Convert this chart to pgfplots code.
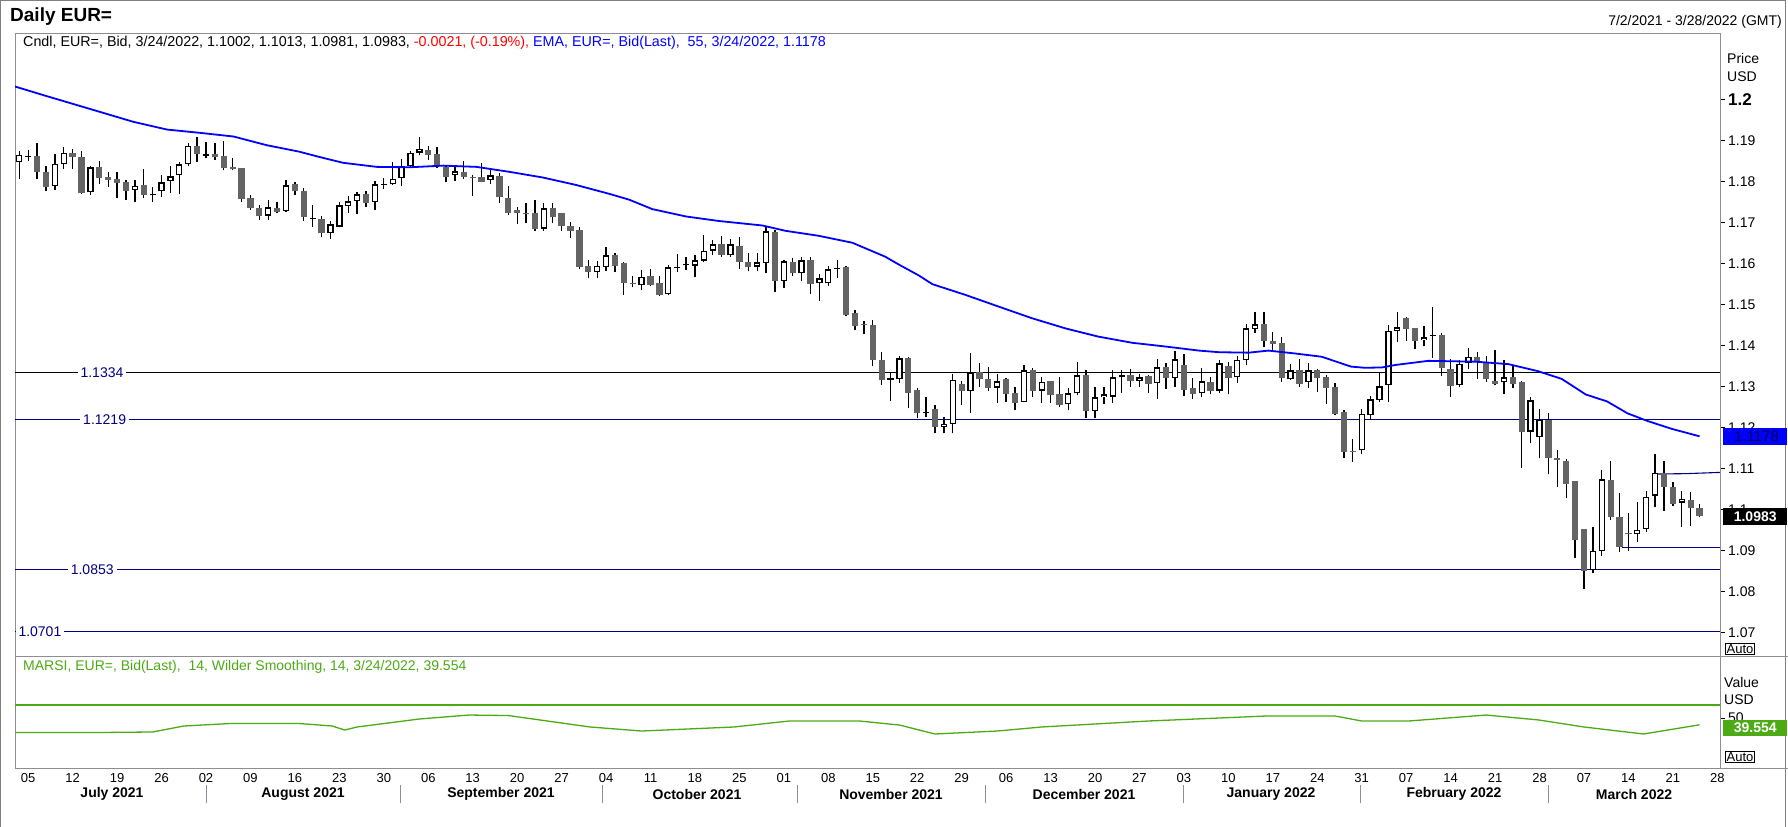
\documentclass[border=0pt]{standalone}
\usepackage{pgfplots}
\pgfplotsset{compat=1.18}
\usepackage{pgfplotstable}
\usepackage{fontspec}
\setmainfont{Liberation Sans}
\newcommand\fs[1]{\fontsize{#1bp}{#1bp}\selectfont}
\definecolor{framegray}{RGB}{140,140,155}
\definecolor{candledark}{RGB}{100,100,100}
\definecolor{navyline}{RGB}{0,0,128}
\definecolor{rsigreen}{RGB}{76,170,20}
\definecolor{emablue}{RGB}{0,0,255}

\pgfplotstableread{
i o h l c
0 1.1846 1.1874 1.1805 1.1864
1 1.1859 1.1876 1.1850 1.1861
4 1.1788 1.1866 1.1779 1.1842
5 1.1842 1.1883 1.1831 1.1870
8 1.1773 1.1837 1.1766 1.1834
13 1.1778 1.1803 1.1749 1.1789
15 1.1766 1.1785 1.1750 1.1770
16 1.1775 1.1814 1.1761 1.1797
17 1.1800 1.1838 1.1771 1.1812
18 1.1815 1.1848 1.1770 1.1841
19 1.1841 1.1892 1.1836 1.1886
21 1.1862 1.1896 1.1856 1.1867
28 1.1716 1.1754 1.1705 1.1736
30 1.1727 1.1803 1.1726 1.1790
33 1.1708 1.1742 1.1689 1.1710
35 1.1673 1.1703 1.1660 1.1695
36 1.1689 1.1749 1.1688 1.1741
37 1.1740 1.1764 1.1723 1.1751
38 1.1752 1.1774 1.1720 1.1768
40 1.1749 1.1801 1.1730 1.1792
41 1.1790 1.1807 1.1780 1.1792
42 1.1792 1.1846 1.1791 1.1805
43 1.1807 1.1853 1.1788 1.1836
44 1.1836 1.1874 1.1834 1.1870
45 1.1870 1.1907 1.1863 1.1879
49 1.1814 1.1839 1.1801 1.1824
53 1.1803 1.1827 1.1793 1.1814
59 1.1684 1.1748 1.1679 1.1734
65 1.1579 1.1606 1.1563 1.1593
66 1.1590 1.1640 1.1582 1.1619
70 1.1546 1.1584 1.1535 1.1566
73 1.1524 1.1596 1.1523 1.1590
74 1.1589 1.1622 1.1579 1.1591
75 1.1596 1.1616 1.1584 1.1598
76 1.1594 1.1620 1.1566 1.1607
77 1.1606 1.1669 1.1603 1.1631
78 1.1631 1.1657 1.1620 1.1646
80 1.1619 1.1659 1.1616 1.1646
83 1.1592 1.1624 1.1580 1.1602
84 1.1601 1.1688 1.1576 1.1678
86 1.1556 1.1608 1.1540 1.1605
88 1.1575 1.1615 1.1557 1.1607
90 1.1551 1.1574 1.1509 1.1563
91 1.1551 1.1593 1.1545 1.1585
92 1.1585 1.1607 1.1565 1.1589
98 1.1316 1.1332 1.1264 1.1318
99 1.1317 1.1374 1.1309 1.1368
102 1.1235 1.1275 1.1226 1.1237
104 1.1201 1.1226 1.1186 1.1209
105 1.1208 1.1330 1.1186 1.1315
107 1.1288 1.1380 1.1235 1.1333
110 1.1297 1.1330 1.1260 1.1312
113 1.1262 1.1351 1.1261 1.1339
115 1.1289 1.1322 1.1260 1.1310
118 1.1256 1.1296 1.1242 1.1283
119 1.1283 1.1358 1.1278 1.1327
121 1.1240 1.1299 1.1222 1.1273
122 1.1273 1.1299 1.1257 1.1280
123 1.1275 1.1340 1.1260 1.1322
124 1.1322 1.1340 1.1284 1.1327
126 1.1314 1.1330 1.1299 1.1322
128 1.1307 1.1366 1.1270 1.1346
130 1.1320 1.1385 1.1298 1.1366
133 1.1283 1.1344 1.1273 1.1312
135 1.1289 1.1364 1.1284 1.1356
137 1.1322 1.1374 1.1309 1.1364
138 1.1363 1.1452 1.1351 1.1441
139 1.1439 1.1482 1.1431 1.1451
143 1.1317 1.1354 1.1315 1.1339
145 1.1310 1.1356 1.1297 1.1339
151 1.1144 1.1245 1.1134 1.1232
152 1.1229 1.1276 1.1218 1.1268
153 1.1266 1.1332 1.1262 1.1300
154 1.1302 1.1449 1.1262 1.1436
155 1.1435 1.1482 1.1407 1.1444
158 1.1412 1.1447 1.1398 1.1419
159 1.1423 1.1493 1.1370 1.1425
162 1.1303 1.1363 1.1299 1.1354
163 1.1357 1.1393 1.1341 1.1371
167 1.1310 1.1364 1.1282 1.1322
170 1.1189 1.1274 1.1161 1.1266
171 1.1176 1.1245 1.1125 1.1218
177 1.0852 1.0957 1.0844 1.0898
178 1.0898 1.1096 1.0886 1.1073
182 1.0939 1.1018 1.0921 1.0950
183 1.0952 1.1045 1.0945 1.1030
184 1.1033 1.1135 1.1005 1.1089
187 1.1016 1.1045 1.0957 1.1025
}\upc

\pgfplotstableread{
i o h l c
2 1.1862 1.1892 1.1805 1.1822
3 1.1822 1.1836 1.1777 1.1787
6 1.1868 1.1878 1.1830 1.1858
7 1.1858 1.1873 1.1769 1.1772
9 1.1834 1.1849 1.1793 1.1809
10 1.1810 1.1822 1.1787 1.1804
11 1.1805 1.1822 1.1760 1.1796
12 1.1799 1.1802 1.1753 1.1777
14 1.1791 1.1829 1.1758 1.1767
20 1.1886 1.1908 1.1848 1.1867
22 1.1867 1.1892 1.1852 1.1858
23 1.1862 1.1898 1.1827 1.1833
24 1.1834 1.1856 1.1827 1.1831
25 1.1832 1.1833 1.1750 1.1756
26 1.1759 1.1766 1.1730 1.1735
27 1.1735 1.1742 1.1705 1.1715
29 1.1735 1.1749 1.1722 1.1726
31 1.1792 1.1799 1.1766 1.1775
32 1.1775 1.1783 1.1704 1.1712
34 1.1708 1.1715 1.1663 1.1673
39 1.1768 1.1776 1.1738 1.1748
46 1.1875 1.1886 1.1852 1.1865
47 1.1866 1.1883 1.1833 1.1839
48 1.1834 1.1840 1.1797 1.1811
50 1.1823 1.1849 1.1805 1.1811
51 1.1810 1.1814 1.1764 1.1807
52 1.1810 1.1844 1.1797 1.1799
54 1.1813 1.1821 1.1748 1.1762
55 1.1758 1.1788 1.1718 1.1723
56 1.1730 1.1738 1.1696 1.1723
57 1.1723 1.1748 1.1697 1.1720
58 1.1722 1.1754 1.1679 1.1684
60 1.1734 1.1746 1.1697 1.1712
61 1.1722 1.1723 1.1679 1.1692
62 1.1692 1.1701 1.1662 1.1679
63 1.1680 1.1688 1.1585 1.1592
64 1.1593 1.1608 1.1563 1.1579
67 1.1619 1.1624 1.1578 1.1594
68 1.1601 1.1604 1.1523 1.1553
69 1.1552 1.1569 1.1541 1.1549
71 1.1569 1.1586 1.1545 1.1547
72 1.1552 1.1569 1.1520 1.1523
79 1.1647 1.1666 1.1616 1.1619
81 1.1641 1.1663 1.1586 1.1604
82 1.1603 1.1624 1.1580 1.1592
85 1.1676 1.1682 1.1531 1.1557
87 1.1603 1.1612 1.1570 1.1575
89 1.1607 1.1616 1.1524 1.1550
93 1.1591 1.1593 1.1471 1.1475
94 1.1479 1.1486 1.1437 1.1448
95 1.1451 1.1459 1.1427 1.1449
96 1.1449 1.1462 1.1349 1.1364
97 1.1364 1.1383 1.1303 1.1315
100 1.1369 1.1371 1.1246 1.1284
101 1.1291 1.1296 1.1222 1.1236
103 1.1244 1.1254 1.1186 1.1200
106 1.1305 1.1314 1.1254 1.1289
108 1.1335 1.1356 1.1299 1.1317
109 1.1318 1.1346 1.1289 1.1297
111 1.1318 1.1319 1.1262 1.1281
112 1.1283 1.1298 1.1242 1.1260
114 1.1340 1.1345 1.1275 1.1289
116 1.1313 1.1314 1.1260 1.1279
117 1.1281 1.1322 1.1250 1.1255
120 1.1327 1.1340 1.1222 1.1240
125 1.1327 1.1342 1.1299 1.1314
127 1.1325 1.1327 1.1284 1.1306
129 1.1346 1.1356 1.1294 1.1321
131 1.1351 1.1378 1.1276 1.1292
132 1.1296 1.1319 1.1268 1.1282
134 1.1310 1.1322 1.1280 1.1289
136 1.1349 1.1359 1.1280 1.1321
140 1.1452 1.1482 1.1395 1.1411
141 1.1410 1.1433 1.1388 1.1404
142 1.1405 1.1419 1.1311 1.1321
144 1.1340 1.1366 1.1299 1.1306
146 1.1340 1.1343 1.1287 1.1321
147 1.1323 1.1327 1.1258 1.1297
148 1.1298 1.1307 1.1230 1.1233
149 1.1237 1.1242 1.1126 1.1140
150 1.1142 1.1171 1.1116 1.1140
156 1.1467 1.1468 1.1411 1.1440
157 1.1441 1.1442 1.1392 1.1411
160 1.1425 1.1431 1.1326 1.1345
161 1.1342 1.1366 1.1275 1.1301
164 1.1371 1.1384 1.1318 1.1361
165 1.1359 1.1374 1.1311 1.1318
166 1.1312 1.1388 1.1302 1.1306
168 1.1323 1.1353 1.1297 1.1306
169 1.1311 1.1312 1.1101 1.1188
172 1.1218 1.1234 1.1085 1.1125
173 1.1124 1.1144 1.1054 1.1121
174 1.1117 1.1122 1.1028 1.1062
175 1.1068 1.1069 1.0882 1.0925
176 1.0951 1.0952 1.0806 1.0850
179 1.1072 1.1119 1.0973 1.0981
180 1.0982 1.1041 1.0897 1.0908
181 1.0941 1.0992 1.0898 1.0939
185 1.1089 1.1119 1.0997 1.1054
186 1.1055 1.1066 1.1007 1.1012
188 1.1023 1.1043 1.0960 1.1003
189 1.1002 1.1013 1.0981 1.0983
}\downc

\pgfplotstableread{
i v
-0.5 1.2031
3 1.2008
8.3 1.1974
12.8 1.1945
16.6 1.1926
20.3 1.1918
24.1 1.1909
27.8 1.1888
31.5 1.1872
33.6 1.1860
36.4 1.1845
40.2 1.1835
43.9 1.1834
47.7 1.1838
51.4 1.1835
55.1 1.1823
58.9 1.1809
62.6 1.1791
66.4 1.1769
68.6 1.1755
71.2 1.1732
75 1.1714
78.7 1.1703
83.6 1.1692
86.2 1.1679
89.9 1.1667
93.7 1.1650
97.4 1.1616
99 1.1596
101.2 1.1570
102.7 1.1549
106.4 1.1523
110.2 1.1494
113.9 1.1466
117.7 1.1441
121.4 1.1421
125.2 1.1406
128.9 1.1397
132.7 1.1387
135 1.1383
138.3 1.1382
140.5 1.1387
143.5 1.1380
146.5 1.1372
148.7 1.1356
149.8 1.1348
151.4 1.1345
153.3 1.1346
154.8 1.1352
158.5 1.1362
163.8 1.1360
167.5 1.1354
170.8 1.1337
173.5 1.1318
176.2 1.1280
178.6 1.1263
180.9 1.1234
183.2 1.1215
185.9 1.1196
189 1.1178
}\ema

\pgfplotstableread{
i v
-0.5 27.7
9 27.7
15 28.5
18.5 37.7
23.7 41.5
31.5 41.5
35.2 37.7
36.6 31.5
38 36.2
45 48.5
50.6 54.6
55 53.8
64.2 36.2
70 30.0
80.4 36.2
86.6 45.4
94.5 45.4
99 39.2
103 25.4
110 30.0
115 36.2
127 45.4
140.3 53.1
148 53.1
151 45.4
156.3 45.4
165 54.6
170.9 47.0
176 36.2
182.7 25.4
189 39.554
}\rsi

\pgfplotsset{
  panel/.style={scale only axis, width=1705bp, xmin=-0.484, xmax=191.3,
    axis line style={framegray, line width=1bp},
    tick align=outside, major tick length=5bp,
    ytick pos=right, yticklabel pos=right,
    ytick style={black, line width=0.8bp},
    yticklabel style={font=\fs{14}, anchor=west, inner sep=1bp, xshift=2bp}},
  wick/.style={only marks, mark=none, mark size=0pt, mark options={draw=none, fill=none}, forget plot,
    error bars/.cd, y dir=plus, y explicit, error mark=none,
    error bar style={line width=1.3bp, color=black}},
  body/.style 2 args={only marks, mark=none, mark size=0pt, mark options={draw=none, fill=none}, forget plot,
    error bars/.cd, y dir=plus, y explicit, error mark=none,
    error bar style={line width=#1, color=#2}},
}

\begin{document}
\begin{tikzpicture}[x=1bp,y=-1bp]
\fill[white] (0,0) rectangle (1788,827);
\path[use as bounding box] (0,0) rectangle (1788,827);
\draw[gray, line width=1.5bp] (0.75,827) -- (0.75,0.75) -- (1785.5,0.75) -- (1785.5,827);

\node[anchor=west, inner sep=0] at (10,17) {\fs{19}\bfseries Daily EUR=};
\node[anchor=east, inner sep=0] at (1782,22) {\fs{14}7/2/2021 - 3/28/2022 (GMT)};
\node[anchor=west, inner sep=0] at (23,43) {\fs{14.3}Cndl, EUR=, Bid, 3/24/2022, 1.1002, 1.1013, 1.0981, 1.0983, \textcolor{red}{-0.0021, (-0.19\%),} \textcolor{emablue}{EMA, EUR=, Bid(Last),\ \ 55, 3/24/2022, 1.1178}};

\begin{axis}[panel, at={(15bp,-656bp)}, anchor=south west, height=623bp,
  ymin=1.06423, ymax=1.21614, xtick=\empty,
  ytick={1.07,1.08,1.09,1.10,1.11,1.12,1.13,1.14,1.15,1.16,1.17,1.18,1.19,1.2},
  yticklabels={1.07,1.08,1.09,1.1,1.11,1.12,1.13,1.14,1.15,1.16,1.17,1.18,1.19,{\fs{17}\bfseries 1.2}}]
  % reference levels
  \addplot[black, line width=1.1bp, forget plot] coordinates {(-0.484,1.1334) (191.3,1.1334)};
  \addplot[navyline, line width=1.1bp, forget plot] coordinates {(-0.484,1.1219) (191.3,1.1219)};
  \addplot[navyline, line width=1.1bp, forget plot] coordinates {(-0.484,1.0853) (191.3,1.0853)};
  \addplot[navyline, line width=1.1bp, forget plot] coordinates {(-0.484,1.0701) (191.3,1.0701)};
  \addplot[navyline, line width=1.1bp, forget plot] coordinates {(184,1.1086) (187.5,1.1087) (191.3,1.1090)};
  \addplot[navyline, line width=1.1bp, forget plot] coordinates {(180.3,1.0907) (191.3,1.0907)};
  % wicks
  \addplot[wick] table[x=i, y=l, y error plus expr=\thisrow{h}-\thisrow{l}] {\upc};
  \addplot[wick] table[x=i, y=l, y error plus expr=\thisrow{h}-\thisrow{l}] {\downc};
  % bodies
  \addplot[body={6.3bp}{candledark}] table[x=i, y=c, y error plus expr={max(\thisrow{o}-\thisrow{c},0.0003)}] {\downc};
  \addplot[body={6.3bp}{black}] table[x=i, y=o, y error plus expr={max(\thisrow{c}-\thisrow{o},0.0003)}] {\upc};
  \addplot[body={3.7bp}{white}] table[x=i, y expr=\thisrow{o}+0.00032, y error plus expr={max(\thisrow{c}-\thisrow{o}-0.00064,0)}] {\upc};
  % EMA 55
  \addplot[emablue, line width=1.8bp] table[x=i, y=v] {\ema};
  % level labels
  \node[fill=white, text=navyline, inner sep=3bp, font=\fs{14}] at (axis cs:9.3,1.1334) {1.1334};
  \node[fill=white, text=navyline, inner sep=3bp, font=\fs{14}] at (axis cs:9.6,1.1219) {1.1219};
  \node[fill=white, text=navyline, inner sep=3bp, font=\fs{14}] at (axis cs:8.2,1.0853) {1.0853};
  \node[fill=white, text=navyline, inner sep=3bp, font=\fs{14}, anchor=west] at (axis cs:-0.45,1.0701) {1.0701};
\end{axis}

\begin{axis}[panel, at={(15bp,-768bp)}, anchor=south west, height=112bp,
  ymin=-26.92, ymax=145.38, ytick={50}, yticklabels={50},
  xtick={1,6,...,191},
  xticklabels={05,12,19,26,02,09,16,23,30,06,13,20,27,04,11,18,25,01,08,15,22,29,06,13,20,27,03,10,17,24,31,07,14,21,28,07,14,21,28},
  xtick pos=bottom, xtick style={draw=none},
  xticklabel style={font=\fs{13}, inner sep=1bp, yshift=1bp}]
  \addplot[rsigreen, line width=1.3bp, forget plot] coordinates {(-0.484,70) (191.3,70)};
  \addplot[rsigreen, line width=1.3bp] table[x=i, y=v] {\rsi};
\end{axis}

\draw[framegray, line width=1bp] (1720,656) -- (1788,656);
\draw[framegray, line width=1bp] (1720,768) -- (1788,768);

\node[anchor=west, inner sep=0] at (1727,58) {\fs{14}Price};
\node[anchor=west, inner sep=0] at (1727,77) {\fs{14}USD};
\node[draw=black, line width=0.8bp, inner sep=1.2bp] at (1740,649) {\fs{13}Auto};
\node[draw=black, line width=0.8bp, inner sep=1.2bp] at (1740,757) {\fs{13}Auto};
\node[anchor=west, fill=emablue, text={rgb,255:red,0;green,0;blue,80}, inner sep=0, minimum height=17bp, minimum width=64bp, align=left] at (1723,436.5) {\fs{15}\,1.1178\hfill};
\node[anchor=west, fill=black, text=white, inner sep=0, minimum height=17bp, minimum width=64bp] at (1723,516.5) {\fs{14}\bfseries 1.0983};

\node[anchor=west, inner sep=0, text=rsigreen] at (23,667) {\fs{14}MARSI, EUR=, Bid(Last),\ \ 14, Wilder Smoothing, 14, 3/24/2022, 39.554};
\node[anchor=west, inner sep=0] at (1724,682) {\fs{14}Value};
\node[anchor=west, inner sep=0] at (1724,700) {\fs{14}USD};
\node[anchor=west, fill=rsigreen, text=white, inner sep=0, minimum height=16bp, minimum width=64bp] at (1723,727.5) {\fs{14}\bfseries 39.554};

\foreach \xx in {206,400,602,797,985,1183,1360,1548}
  \draw[framegray, line width=1bp] (\xx,785) -- (\xx,803);
\foreach \xx/\mm in {112/July 2021,303/August 2021,501/September 2021,697/October 2021,891/November 2021,1084/December 2021,1271/January 2022,1454/February 2022,1634/March 2022}
  \node[inner sep=0] at (\xx,794) {\fs{14}\bfseries \mm};
\end{tikzpicture}
\end{document}
